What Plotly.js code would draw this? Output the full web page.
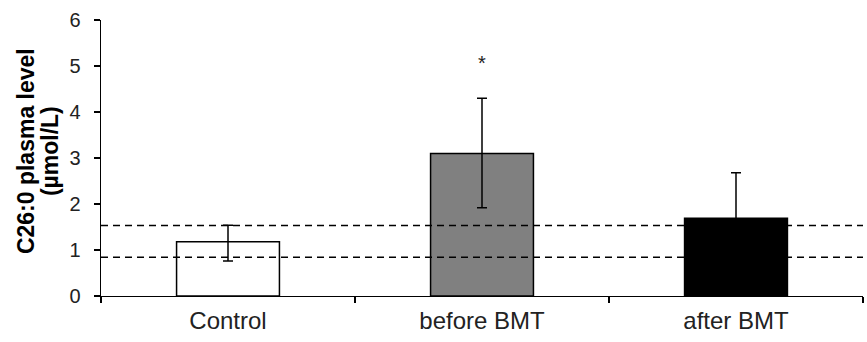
<!DOCTYPE html>
<html>
<head>
<meta charset="utf-8">
<script src="https://cdn.plot.ly/plotly-3.0.1.min.js"></script>
<style>html,body{margin:0;padding:0;background:#fff;}#chart{width:867px;height:342px;}</style>
</head>
<body>
<div id="chart"></div>
<script>
const categories = ['Control', 'before BMT', 'after BMT'];
const means = [1.18, 3.10, 1.69];
const errPlus = [0.36, 1.20, 0.99];
const errMinus = [0.42, 1.18, 0.99];
const barColors = ['#ffffff', '#808080', '#000000'];
const refLines = [0.84, 1.53];
const significance = ['', '*', ''];
const sigY = [5.07, 5.07, 5.07];
const yTicks = [0, 1, 2, 3, 4, 5, 6];
const yTitleLines = ['C26:0 plasma level', '(µmol/L)'];

const FONT = 'Liberation Sans, Arial, sans-serif';

const trace = {
  type: 'bar',
  x: categories,
  y: means,
  width: 0.405,
  marker: {color: barColors, line: {color: '#000', width: 1.5}},
  error_y: {type: 'data', symmetric: false, array: errPlus, arrayminus: errMinus,
            color: '#000', thickness: 1.5, width: 5},
  hoverinfo: 'none'
};

const shapes = refLines.map(v => ({
  type: 'line', xref: 'paper', x0: 0, x1: 1, yref: 'y', y0: v, y1: v,
  line: {color: '#000', width: 1.5, dash: '7px,5px'}, layer: 'above'
}));

const annotations = [];
significance.forEach((s, i) => {
  if (s) annotations.push({x: categories[i], y: sigY[i], xref: 'x', yref: 'y', text: s,
    showarrow: false, font: {family: FONT, size: 20, color: '#222'}});
});
// two-line y-axis title, placed as rotated text lines
const titleX = [-0.0984, -0.0669];
yTitleLines.forEach((t, i) => {
  annotations.push({xref: 'paper', yref: 'paper', x: titleX[i], y: 0.525, text: '<b>' + t + '</b>',
    textangle: -90, showarrow: false, xanchor: 'center', yanchor: 'middle',
    font: {family: FONT, size: 23, color: '#000'}});
});

const layout = {
  width: 867, height: 342,
  margin: {l: 101, r: 4, t: 20, b: 46},
  paper_bgcolor: '#fff', plot_bgcolor: '#fff',
  showlegend: false,
  bargap: 0,
  font: {family: FONT, color: '#222'},
  xaxis: {
    type: 'category', tickson: 'boundaries', ticks: 'outside', ticklen: 6, tickcolor: '#000', tickwidth: 1.3,
    showline: true, linecolor: '#000', linewidth: 1.3, showgrid: false, zeroline: false,
    tickfont: {size: 24, color: '#222'}, ticklabelstandoff: 3, range: [-0.5, 2.5], fixedrange: true
  },
  yaxis: {
    range: [0, 6], tickvals: yTicks, ticks: 'outside', ticklen: 6, tickcolor: '#000', tickwidth: 1.3,
    showline: true, linecolor: '#000', linewidth: 1.3, showgrid: false, zeroline: false,
    tickfont: {size: 20, color: '#222'}, ticklabelstandoff: 9,
    fixedrange: true
  },
  shapes: shapes,
  annotations: annotations
};

Plotly.newPlot('chart', [trace], layout, {displayModeBar: false, staticPlot: true});
</script>
</body>
</html>
